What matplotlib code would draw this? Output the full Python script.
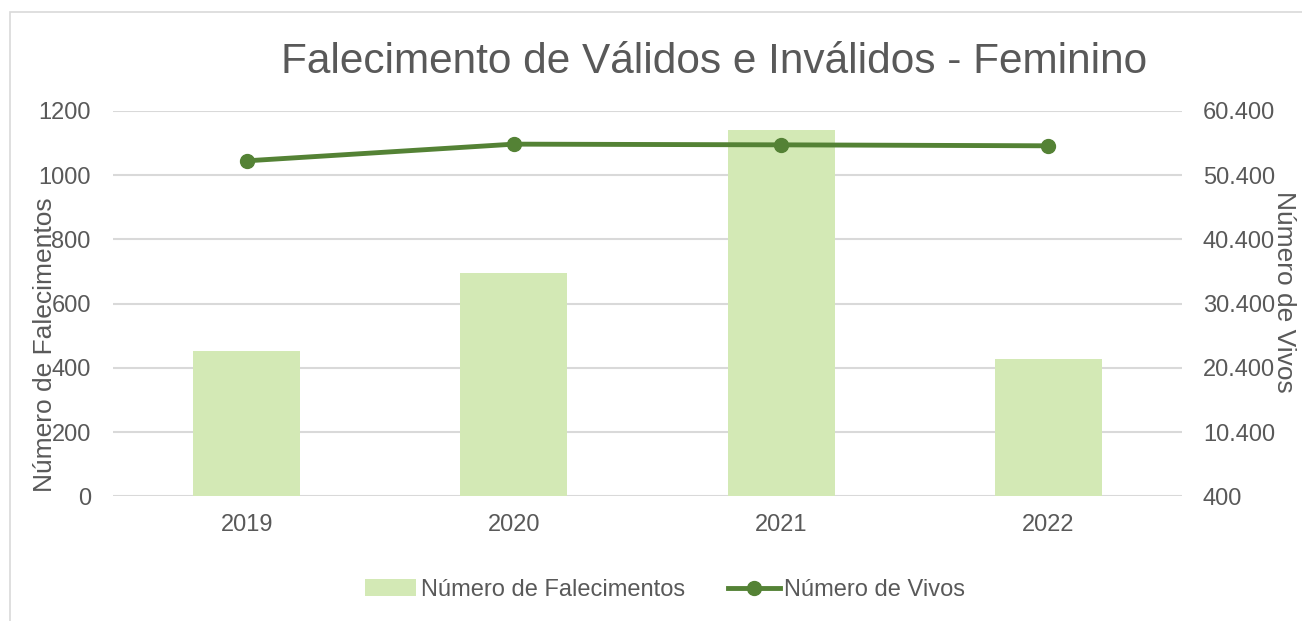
import matplotlib
matplotlib.use("Agg")
import matplotlib.pyplot as plt
from matplotlib.patches import Rectangle
from matplotlib.lines import Line2D
from matplotlib.patches import Patch

years = ["2019", "2020", "2021", "2022"]
falecimentos = [453, 697, 1142, 428]
vivos = [52640, 55240, 55130, 54980]
left_ticks = [0, 200, 400, 600, 800, 1000, 1200]
right_ticks = [400, 10400, 20400, 30400, 40400, 50400, 60400]
right_labels = ["400", "10.400", "20.400", "30.400", "40.400", "50.400", "60.400"]

plt.rcParams['font.family'] = ['Liberation Sans', 'DejaVu Sans']
gray = "#595959"
bar_color = "#d3e9b5"
line_color = "#548235"

fig = plt.figure(figsize=(13.02, 6.21), dpi=100)
fig.patches.append(Rectangle((10/1302, -0.1), 1.2, (621-12)/621 + 0.1, transform=fig.transFigure,
                             fill=False, edgecolor="#d9d9d9", linewidth=1.2))

ax = fig.add_axes([113/1302, 1-496.3/621, (1182-113)/1302, (496.3-111)/621])
x = list(range(len(years)))
ax.bar(x, falecimentos, width=0.4, color=bar_color, zorder=2)
ax.set_xlim(-0.5, 3.5)
ax.set_ylim(0, 1200)
ax.set_yticks(left_ticks)
ax.set_yticklabels([str(t) for t in left_ticks])
ax.set_xticks(x)
ax.set_xticklabels(years)
ax.grid(axis='y', color="#d9d9d9", linewidth=1.5, zorder=0)
for s in ax.spines.values():
    s.set_visible(False)
ax.tick_params(axis='both', length=0, colors=gray, labelsize=17)
ax.tick_params(axis='x', pad=13)
ax.tick_params(axis='y', pad=16)
ax.set_ylabel("Número de Falecimentos", color=gray, fontsize=19, va='center')
ax.yaxis.set_label_coords((45 - 113) / (1182 - 113), (496.3 - 345) / 385.3)

ax2 = ax.twinx()
ax2.plot(x, vivos, color=line_color, linewidth=3.5, marker='o', markersize=10, zorder=3)
ax2.set_ylim(400, 60400)
ax2.set_yticks(right_ticks)
ax2.set_yticklabels(right_labels)
for s in ax2.spines.values():
    s.set_visible(False)
ax2.tick_params(axis='y', length=0, colors=gray, labelsize=17, pad=15)
ax2.set_ylabel("Número de Vivos", color=gray, fontsize=19, rotation=270, va='center')
ax2.yaxis.set_label_coords((1284 - 113) / (1182 - 113), (496.3 - 292) / 385.3)

fig.text(714/1302, 1-62/621, "Falecimento de Válidos e Inválidos - Feminino",
         ha='center', va='center', fontsize=30.5, color=gray)

handles = [Patch(facecolor=bar_color, edgecolor='none'),
           Line2D([0], [0], color=line_color, linewidth=3.5, marker='o', markersize=10)]
fig.legend(handles, ["Número de Falecimentos", "Número de Vivos"], loc='center',
           bbox_to_anchor=(665/1302, 1-590/621), ncol=2, frameon=False, fontsize=17,
           labelcolor=gray, handlelength=2.2, handletextpad=0.2, columnspacing=1.8)

fig.savefig("out.png", dpi=100)
